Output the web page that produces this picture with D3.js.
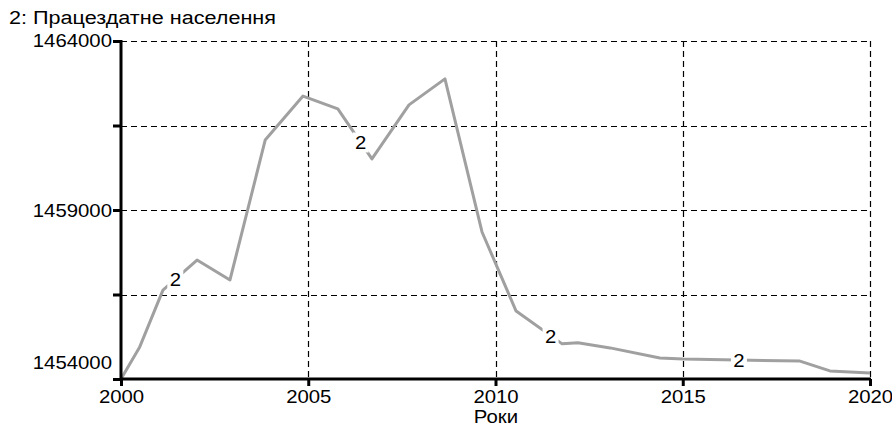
<!DOCTYPE html>
<html><head><meta charset="utf-8">
<script src="https://cdn.jsdelivr.net/npm/d3@7"></script>
<style>body{margin:0;background:#fff}svg{display:block}text{font-family:"Liberation Sans",Arial,sans-serif}</style>
</head><body><svg id="c" width="892" height="426"></svg>
<script>
const years = [2000.0,2000.5,2001.12,2002.03,2002.91,2003.85,2004.86,2005.79,2006.70,2007.69,2008.65,2009.64,2010.55,2011.78,2012.20,2013.06,2014.39,2015.01,2018.13,2018.93,2020.0];
const values = [1454000,1454950,1456630,1457520,1456930,1461070,1462370,1461990,1460510,1462110,1462880,1458350,1456010,1455040,1455070,1454920,1454620,1454590,1454530,1454240,1454180];
const labelYears = [2001.45, 2006.4, 2011.47, 2016.5];
const xTicks = [2000,2005,2010,2015,2020];
const yTicks = [1454000,1456500,1459000,1461500,1464000];
const yLabels = [1454000,1459000,1464000];
const title = "2: Працездатне населення";
const xTitle = "Роки";

const FS = 18, WIDEN = 1.13;
const svg = d3.select("#c");
const x = d3.scaleLinear().domain([2000,2020]).range([121,870]);
const y = d3.scaleLinear().domain([1454000,1464000]).range([379,41]);

function widen(sel, k){
  sel.each(function(){
    const w = this.getComputedTextLength();
    d3.select(this).attr("textLength", w*(k||WIDEN)).attr("lengthAdjust","spacingAndGlyphs");
  });
}

// grid
svg.append("g").selectAll("line").data(yTicks.slice(1)).join("line")
  .attr("x1",121).attr("x2",870).attr("y1",d=>Math.round(y(d))+0.5).attr("y2",d=>Math.round(y(d))+0.5)
  .attr("stroke","#000").attr("stroke-width",1.2).attr("stroke-dasharray","6,4");
svg.append("g").selectAll("line").data(xTicks.slice(1)).join("line")
  .attr("x1",d=>Math.round(x(d))+0.5).attr("x2",d=>Math.round(x(d))+0.5).attr("y1",41).attr("y2",379)
  .attr("stroke","#000").attr("stroke-width",1.2).attr("stroke-dasharray","6,4");

// line
const line = d3.line().x((d,i)=>x(years[i])).y(d=>y(d));
svg.append("path").datum(values).attr("d",line).attr("fill","none")
  .attr("stroke","#a0a0a0").attr("stroke-width",3).attr("stroke-linejoin","round");

// labels "2"
function interp(yr){
  for(let i=0;i<years.length-1;i++){
    if(yr>=years[i]&&yr<=years[i+1]){
      const t=(yr-years[i])/(years[i+1]-years[i]);
      return values[i]+t*(values[i+1]-values[i]);
    }
  }
  return values[values.length-1];
}
const lg = svg.append("g");
labelYears.forEach(yr=>{
  const cx=x(yr), cy=y(interp(yr));
  lg.append("rect").attr("x",cx-8).attr("y",cy-10).attr("width",16).attr("height",20).attr("fill","#fff");
  lg.append("text").attr("x",cx).attr("y",cy+7).attr("text-anchor","middle").attr("font-size",FS).text("2").call(widen);
});

// axes
const yAxis = d3.axisLeft(y).tickValues(yTicks).tickSize(8).tickFormat("");
const gy = svg.append("g").attr("transform","translate(121,0)").call(yAxis);
gy.select(".domain").attr("stroke-width",3).attr("d","M0,40V380");
gy.selectAll(".tick line").attr("stroke-width",3);
const xAxis = d3.axisBottom(x).tickValues(xTicks).tickSize(7).tickFormat(d3.format("d"));
const gx = svg.append("g").attr("transform","translate(0,379)").call(xAxis);
gx.select(".domain").attr("stroke-width",3).attr("d","M120,0H871");
gx.selectAll(".tick line").attr("stroke-width",3);
gx.selectAll(".tick text").attr("font-size",FS).attr("fill","#000").attr("y",24).attr("dy",null)
  .attr("font-family",'"Liberation Sans",Arial,sans-serif').call(widen);

svg.append("g").selectAll("text").data(yLabels).join("text")
  .attr("x",112).attr("y",d=>d===1454000?y(d)-10:(d===1459000?y(d)+7:y(d)+6)).attr("text-anchor","end")
  .attr("font-size",FS).text(d=>d).call(widen);

svg.append("text").attr("x",9).attr("y",24).attr("font-size",FS).text(title)
  .attr("textLength",267).attr("lengthAdjust","spacingAndGlyphs");
svg.append("text").attr("x",496).attr("y",423).attr("text-anchor","middle").attr("font-size",FS).text(xTitle).call(widen);
</script></body></html>
